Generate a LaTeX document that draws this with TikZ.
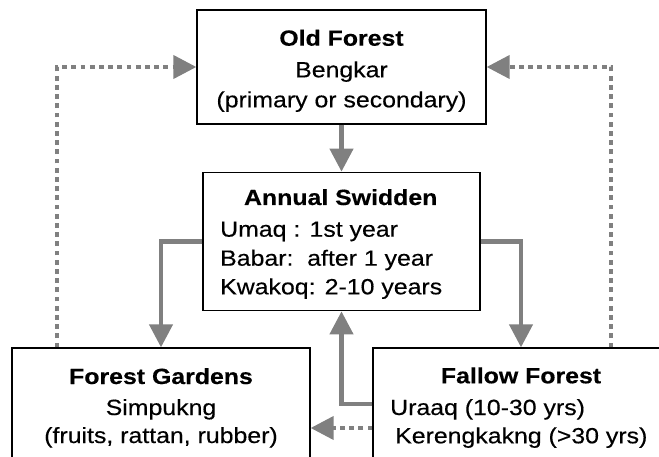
\documentclass[tikz,border=0pt]{standalone}
\usepackage{fontspec}
\setmainfont{Liberation Sans}[FakeStretch=1.13,FakeBold=0.35]
\usetikzlibrary{arrows.meta}
\definecolor{linegray}{HTML}{808080}
\begin{document}
\begin{tikzpicture}[x=1pt,y=-1pt,
  box/.style={draw=black,line width=1.3pt,rectangle,inner sep=0pt},
  txt/.style={inner sep=0pt,font=\fontsize{22}{30}\selectfont},
  btxt/.style={inner sep=0pt,font=\fontsize{22}{30}\selectfont\bfseries},
  flow/.style={draw=linegray,line width=4.3pt,-{Triangle[length=23pt,width=23pt]}},
  dotflow/.style={draw=linegray,line width=4pt,dash pattern=on 4.7pt off 4.5pt,-{Triangle[length=23pt,width=23pt]}}]
\clip (0,0) rectangle (659,457);
% boxes
\node[box,minimum width=289pt,minimum height=114pt] (old) at (341.5,67) {};
\node[box,minimum width=277pt,minimum height=138.4pt] (ann) at (341.5,241.5) {};
\node[box,minimum width=298pt,minimum height=160pt] (fg) at (161,428) {};
\node[box,minimum width=296pt,minimum height=112pt] (ff) at (521,404) {};
% connectors
\draw[flow] (old.south) -- (ann.north);
\draw[flow] (ann.west) -| (fg.north);
\draw[flow] (ann.east) -| (ff.north);
\draw[flow] (ff.west) -| (ann.south);
\draw[dotflow] (ff.west |- fg.east) -- (fg.east);
\draw[dotflow] ([xshift=46pt]fg.north west) |- (old.west);
\draw[dotflow] ([xshift=239pt]ff.north west) |- (old.east);
% texts
\node[btxt,anchor=base] (t1) at (341.5,45.7) {Old Forest};
\node[txt,anchor=base] (t2) at (341.5,77.3) {Bengkar};
\node[txt,anchor=base] (t3) at (341.5,107.3) {(primary or secondary)};
\node[btxt,anchor=base] (t4) at (340.7,205) {Annual Swidden};
\node[txt,anchor=base west] (t5) at (220,236.7) {Umaq : 1st year};
\node[txt,anchor=base west] (t6) at (220,265.7) {Babar:\ \ after 1 year};
\node[txt,anchor=base west] (t7) at (220,294.3) {Kwakoq: 2-10 years};
\node[btxt,anchor=base] (t8) at (161,384) {Forest Gardens};
\node[txt,anchor=base] (t9) at (161,415) {Simpukng};
\node[txt,anchor=base] (t10) at (161,443) {(fruits, rattan, rubber)};
\node[btxt,anchor=base] (t11) at (521,383.3) {Fallow Forest};
\node[txt,anchor=base west] (t12) at (390,415) {Uraaq (10-30 yrs)};
\node[txt,anchor=base west] (t13) at (395,443.3) {Kerengkakng (>30 yrs)};
\end{tikzpicture}
\end{document}
